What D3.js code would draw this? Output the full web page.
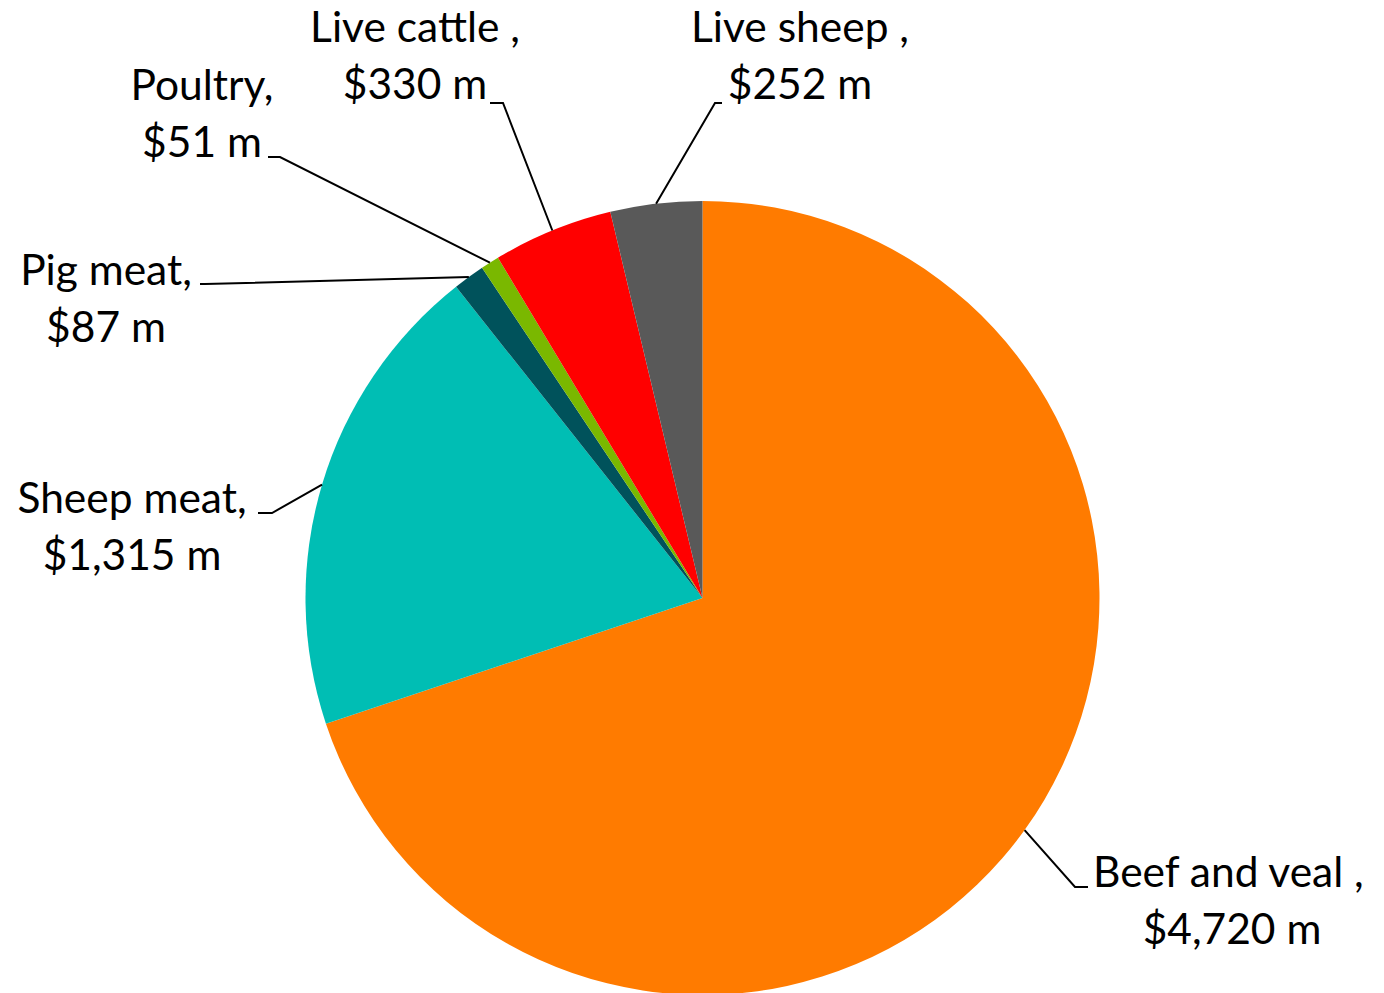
<!DOCTYPE html>
<html>
<head>
<meta charset="utf-8">
<script src="https://cdn.jsdelivr.net/npm/d3@7"></script>
<style>
  body { margin: 0; background: #fff; }
  svg text { font-family: Lato, "Noto Sans", sans-serif; fill: #000; }
</style>
</head>
<body>
<div id="chart"></div>
<script>
// Chart data
const categories = ["Beef and veal", "Sheep meat", "Pig meat", "Poultry", "Live cattle", "Live sheep"];
const values = [4720, 1315, 87, 51, 330, 252];
const labelTitles = ["Beef and veal ,", "Sheep meat,", "Pig meat,", "Poultry,", "Live cattle ,", "Live sheep ,"];
const labelValues = ["$4,720 m", "$1,315 m", "$87 m", "$51 m", "$330 m", "$252 m"];
const colors = ["#FF7B00", "#00BEB4", "#00525B", "#7AB800", "#FF0000", "#595959"];

// Layout
const width = 1384, height = 993;
const cx = 702.5, cy = 598, radius = 397;
const fontSize = 42.5, lineGap = 57;

// Label placement: text anchor, first baseline, elbow of leader line
const labelLayout = [
    { x: 1093, y: 887, anchor: "start", elbow: [1075, 887], tick: 1088, secondX: 1232 },
    { x: 132, y: 513, anchor: "middle", elbow: [272, 513], tick: 258 },
    { x: 106, y: 285, anchor: "middle", elbow: [205, 284], tick: 200 },
    { x: 202, y: 100, anchor: "middle", elbow: [280, 157], tick: 268 },
    { x: 415, y: 42, anchor: "middle", elbow: [503, 103], tick: 490 },
    { x: 800, y: 42, anchor: "middle", elbow: [715, 103], tick: 722 }
];

const data = categories.map((c, i) => ({ name: c, value: values[i], i }));

const svg = d3.select("#chart").append("svg")
    .attr("width", width)
    .attr("height", height);

const pie = d3.pie()
    .sort(null)
    .value(d => d.value);

const arc = d3.arc()
    .innerRadius(0)
    .outerRadius(radius);

const arcs = pie(data);

const g = svg.append("g")
    .attr("transform", `translate(${cx},${cy})`);

// Slices
g.selectAll("path.slice")
    .data(arcs)
    .enter().append("path")
    .attr("class", "slice")
    .attr("d", arc)
    .attr("fill", d => colors[d.data.i]);

// Leader lines
arcs.forEach(a => {
    const L = labelLayout[a.data.i];
    const mid = (a.startAngle + a.endAngle) / 2;
    const px = cx + radius * Math.sin(mid);
    const py = cy - radius * Math.cos(mid);
    svg.append("polyline")
        .attr("points", `${px},${py} ${L.elbow[0]},${L.elbow[1]} ${L.tick},${L.elbow[1]}`)
        .attr("fill", "none")
        .attr("stroke", "#000")
        .attr("stroke-width", 2);
});

// Labels
arcs.forEach(a => {
    const i = a.data.i;
    const L = labelLayout[i];
    const t = svg.append("text")
        .attr("font-size", fontSize)
        .attr("text-anchor", L.anchor);
    t.append("tspan")
        .attr("x", L.x)
        .attr("y", L.y)
        .text(labelTitles[i]);
    t.append("tspan")
        .attr("x", L.secondX || L.x)
        .attr("y", L.y + lineGap)
        .attr("text-anchor", "middle")
        .text(labelValues[i]);
});
</script>
</body>
</html>
